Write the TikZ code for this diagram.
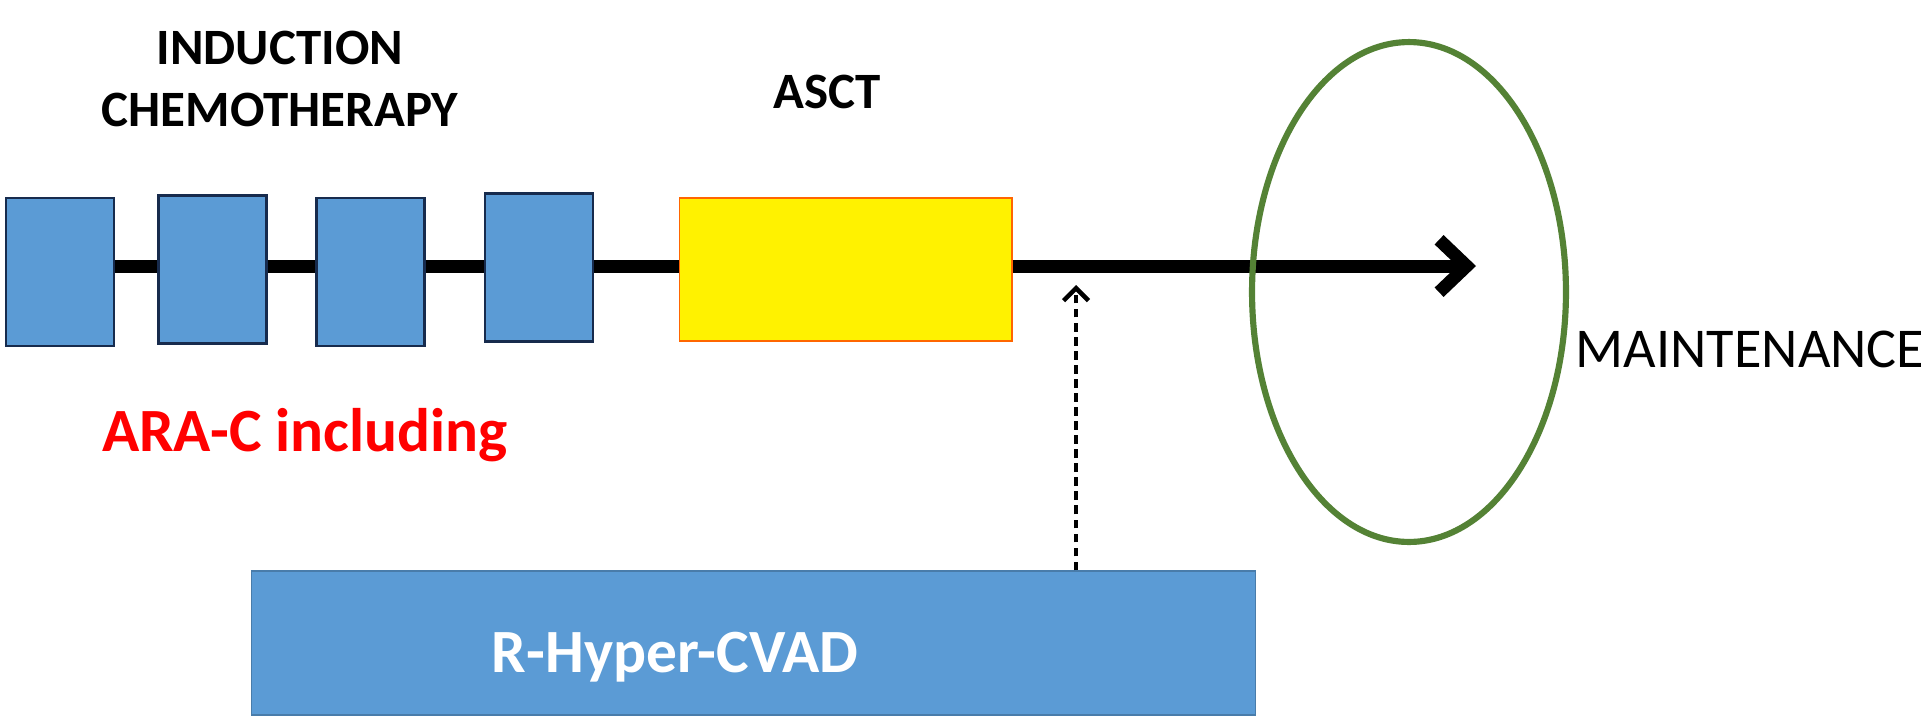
\documentclass[tikz,border=0pt]{standalone}
\usepackage{fontspec}
\setmainfont{Carlito}
\usepackage{xcolor}
\usepackage{tikz}
\usetikzlibrary{arrows.meta,positioning,calc,shapes.geometric}

\definecolor{cycblue}{RGB}{91,155,213}
\definecolor{cycedge}{RGB}{23,43,77}
\definecolor{mtgreen}{RGB}{84,130,53}

\begin{document}
\begin{tikzpicture}[
   x=0.02cm, y=-0.02cm,
   cyc/.style={draw=cycedge,line width=1.2pt,fill=cycblue,minimum width=2.16cm,minimum height=2.96cm,inner sep=0pt},
   asctbox/.style={draw=orange!80!red,line width=0.6pt,fill=yellow,minimum width=6.66cm,minimum height=2.86cm,inner sep=0pt},
   cvadbox/.style={draw=cycblue!80!black,line width=0.6pt,fill=cycblue,minimum width=20.1cm,minimum height=2.88cm,inner sep=0pt},
   spine/.style={line width=7.4pt},
   hdr/.style={font=\fontsize{29}{35}\selectfont\bfseries,align=center,inner sep=0pt}]
  \useasboundingbox[fill=white] (0,0) rectangle (1921,721);
  \node[cyc] (c1) at (60,272) {};
  \node[cyc] (c2) at (212.5,269.5) {};
  \node[cyc] (c3) at (370.5,272) {};
  \node[cyc] (c4) at (539,267.5) {};
  \node[asctbox] (asct) at (845.5,269.5) {};
  \coordinate (tip) at (1476,266);
  \foreach \a/\b in {c1/c2,c2/c3,c3/c4,c4/asct}
    \draw[spine] (\a.east |- tip) -- (\b.west |- tip);
  \draw[spine,-{Straight Barb[length=0.55cm,width=1.05cm]}] (asct.east |- tip) -- (tip);
  \node[hdr] (ind) at (280,79) {INDUCTION\\CHEMOTHERAPY};
  \node[hdr] (asctlbl) at (827,92) {ASCT};
  \node[hdr,text=red,font=\fontsize{35}{42}\selectfont\bfseries] (arac) at (305,435) {ARA-C including};
  \node[draw=mtgreen,line width=3.5pt,ellipse,minimum width=6.28cm,minimum height=10cm] (maint) at (1409,292) {};
  \node[inner sep=0pt,font=\fontsize{32}{38}\selectfont] (mlbl) at (1750,349) {MAINTENANCE};
  \node[cvadbox] (cvad) at (753.5,643) {};
  \node[hdr,text=white,font=\fontsize{35}{42}\selectfont\bfseries] (cvadlbl) at (675,657) {R-Hyper-CVAD};
  \coordinate (join) at (1076,285);
  \draw[line width=2.6pt,dash pattern=on 5pt off 3pt,-{Straight Barb[length=2.5mm,width=5mm]}] (cvad.north -| join) -- (join);
\end{tikzpicture}
\end{document}
